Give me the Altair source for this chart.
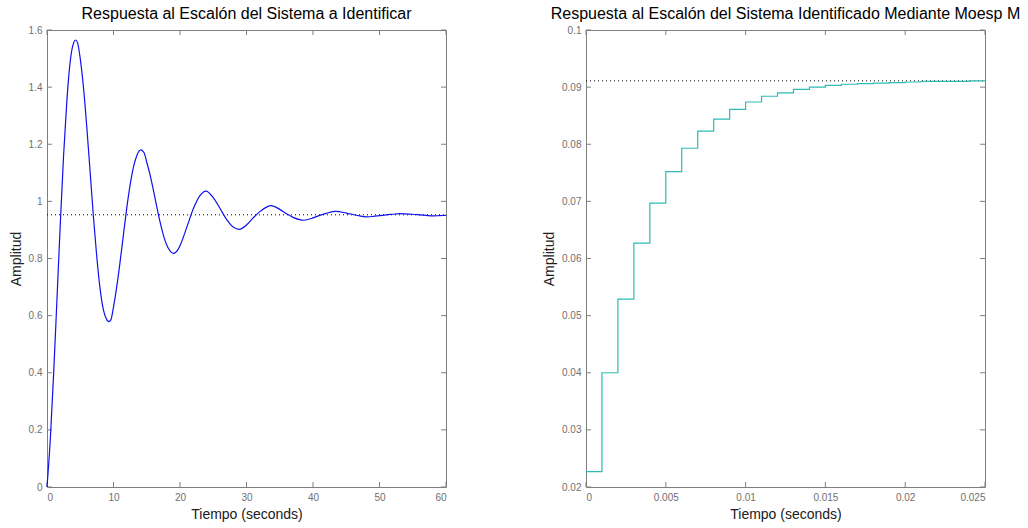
import altair as alt
import pandas as pd

# ---------------- data ----------------
t_left = [0, 0.5, 1.0, 1.5, 2.0, 2.5, 3.0, 3.5, 4.0, 4.3, 4.6, 5.0, 5.5, 6.0, 6.5, 7.0, 7.5,
          8.0, 8.5, 9.0, 9.3, 9.6, 10.0, 10.5, 11.0, 11.5, 12.0, 12.5, 13.0, 13.5, 14.1,
          14.6, 15.0, 15.5, 16.0, 16.5, 17.0, 17.5, 18.0, 18.5, 19.0, 19.5, 20.0, 21.0,
          22.0, 23.0, 23.9, 25.0, 26.0, 27.0, 28.0, 28.9, 30.0, 31.0, 32.0, 33.0, 33.7,
          35.0, 36.0, 37.0, 38.0, 38.6, 40.0, 41.0, 42.0, 43.4, 45.0, 46.0, 47.0, 48.0,
          49.0, 50.0, 51.0, 52.0, 53.0, 54.0, 55.0, 56.0, 57.0, 58.0, 59.0, 60.0]
y_left = [0.0, 0.168, 0.397, 0.658, 0.922, 1.163, 1.357, 1.492, 1.555, 1.565, 1.555, 1.500,
          1.395, 1.255, 1.098, 0.941, 0.802, 0.691, 0.618, 0.585, 0.579, 0.585, 0.630,
          0.703, 0.790, 0.885, 0.978, 1.058, 1.120, 1.160, 1.180, 1.170, 1.137, 1.093,
          1.039, 0.982, 0.928, 0.882, 0.847, 0.827, 0.818, 0.825, 0.845, 0.908, 0.974,
          1.020, 1.036, 1.013, 0.976, 0.937, 0.910, 0.902, 0.917, 0.942, 0.964, 0.980,
          0.985, 0.972, 0.957, 0.944, 0.936, 0.934, 0.942, 0.951, 0.958, 0.965, 0.959,
          0.954, 0.949, 0.946, 0.947, 0.950, 0.953, 0.955, 0.957, 0.956, 0.955, 0.953,
          0.951, 0.949, 0.950, 0.951]
final_left = [0.953]

t_right = [0.000, 0.001, 0.002, 0.003, 0.004, 0.005, 0.006, 0.007, 0.008, 0.009, 0.010,
           0.011, 0.012, 0.013, 0.014, 0.015, 0.016, 0.017, 0.018, 0.019, 0.020, 0.021,
           0.022, 0.023, 0.024, 0.025]
y_right = [0.0227, 0.0400, 0.0529, 0.0627, 0.0697, 0.0752, 0.0793, 0.0823, 0.0844, 0.0861,
           0.0874, 0.0884, 0.0890, 0.0896, 0.0900, 0.0903, 0.0905, 0.0906, 0.0907, 0.0908,
           0.0909, 0.0910, 0.0910, 0.0910, 0.0911, 0.0911]
final_right = [0.0911]

left_x_ticks = [0, 10, 20, 30, 40, 50, 60]
left_y_ticks = [0, 0.2, 0.4, 0.6, 0.8, 1.0, 1.2, 1.4, 1.6]
right_x_ticks = [0, 0.005, 0.01, 0.015, 0.02, 0.025]
right_y_ticks = [0.02, 0.03, 0.04, 0.05, 0.06, 0.07, 0.08, 0.09, 0.1]

title_left = "Respuesta al Escalón del Sistema a Identificar"
title_right = "Respuesta al Escalón del Sistema Identificado Mediante Moesp M"
x_title = "Tiempo (seconds)"
y_title = "Amplitud"

W, H = 399, 457
FONT = "Liberation Sans"
FRAME = "#7f7f7f"
TICK_LEN = 5


def panel(t, y, final, xticks, yticks, color, title, step):
    xdom = [xticks[0], xticks[-1]]
    ydom = [yticks[0], yticks[-1]]
    xs = alt.Scale(domain=xdom, nice=False, zero=False)
    ys = alt.Scale(domain=ydom, nice=False, zero=False)
    df = pd.DataFrame({"t": t, "y": y})
    line = alt.Chart(df).mark_line(
        color=color, strokeWidth=1.2,
        interpolate="step-after" if step else "monotone",
    ).encode(
        x=alt.X("t:Q", scale=xs, title=x_title,
                axis=alt.Axis(values=xticks, format="~g", ticks=False, domain=False,
                              grid=False, labelPadding=5, titlePadding=5)),
        y=alt.Y("y:Q", scale=ys, title=y_title,
                axis=alt.Axis(values=yticks, format="~g", ticks=False, domain=False,
                              grid=False, labelPadding=5, titlePadding=5)),
    )
    ref = alt.Chart(pd.DataFrame({"v": final})).mark_rule(
        color="black", strokeDash=[1, 3], strokeWidth=1
    ).encode(y=alt.Y("v:Q", scale=ys), x=alt.value(0), x2=alt.value(W))

    xt = pd.DataFrame({"xv": xticks})
    yt = pd.DataFrame({"yv": yticks})
    xb = alt.Chart(xt).mark_rule(color=FRAME).encode(
        x=alt.X("xv:Q", scale=xs), y=alt.value(H), y2=alt.value(H - TICK_LEN))
    xtp = alt.Chart(xt).mark_rule(color=FRAME).encode(
        x=alt.X("xv:Q", scale=xs), y=alt.value(0), y2=alt.value(TICK_LEN))
    yl = alt.Chart(yt).mark_rule(color=FRAME).encode(
        y=alt.Y("yv:Q", scale=ys), x=alt.value(0), x2=alt.value(TICK_LEN))
    yr = alt.Chart(yt).mark_rule(color=FRAME).encode(
        y=alt.Y("yv:Q", scale=ys), x=alt.value(W), x2=alt.value(W - TICK_LEN))

    return alt.layer(xb, xtp, yl, yr, ref, line).properties(
        width=W, height=H,
        title=alt.TitleParams(title, anchor="middle", frame="group", offset=3,
                              fontSize=16, font=FONT, fontWeight="normal",
                              color="black"),
    )


left = panel(t_left, y_left, final_left, left_x_ticks, left_y_ticks, "#1010ee",
             title_left, False)
right = panel(t_right, y_right, final_right, right_x_ticks, right_y_ticks, "#2cbcb2",
              title_right, True)

chart = alt.hconcat(left, right, spacing=140, bounds="flush").properties(
    padding={"left": 8, "top": 5, "right": 0, "bottom": 2},
    background="white",
).configure_view(
    stroke=FRAME, strokeWidth=1
).configure_axis(
    labelFont=FONT, labelFontSize=10, labelColor="#707070",
    titleFont=FONT, titleFontSize=14, titleColor="#202020", titleFontWeight="normal",
)

chart.save("out.html", embed_options={"renderer": "svg", "actions": False})
